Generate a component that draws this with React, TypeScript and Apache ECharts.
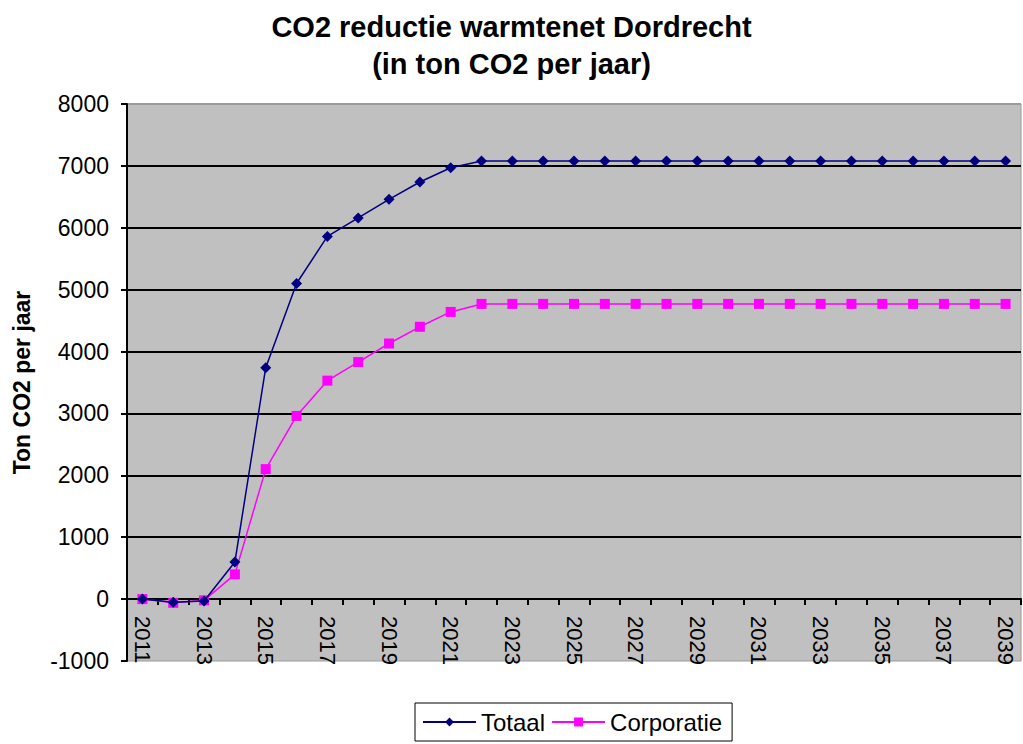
import React, { useEffect, useRef } from "react";
import * as echarts from "echarts";

const years = [
  "2011", "2012", "2013", "2014", "2015", "2016", "2017", "2018", "2019", "2020",
  "2021", "2022", "2023", "2024", "2025", "2026", "2027", "2028", "2029", "2030",
  "2031", "2032", "2033", "2034", "2035", "2036", "2037", "2038", "2039",
];
const totaal = [
  0, -50, -30, 600, 3740, 5100, 5860, 6160, 6460, 6740,
  6970, 7080, 7080, 7080, 7080, 7080, 7080, 7080, 7080, 7080,
  7080, 7080, 7080, 7080, 7080, 7080, 7080, 7080, 7080,
];
const corporatie = [
  0, -60, -20, 400, 2100, 2960, 3530, 3830, 4130, 4400,
  4640, 4770, 4770, 4770, 4770, 4770, 4770, 4770, 4770, 4770,
  4770, 4770, 4770, 4770, 4770, 4770, 4770, 4770, 4770,
];
const titleText = "CO2 reductie warmtenet Dordrecht\n(in ton CO2 per jaar)";
const yAxisName = "Ton CO2 per jaar";

const FONT = "'Liberation Sans', Arial, sans-serif";

export default function App() {
  const ref = useRef<HTMLDivElement>(null);
  useEffect(() => {
    if (!ref.current) return;
    const chart = echarts.init(ref.current, undefined, { renderer: "svg" });
    chart.setOption({
      animation: false,
      backgroundColor: "#ffffff",
      textStyle: { fontFamily: FONT },
      title: {
        text: titleText,
        left: "center",
        top: 3,
        textStyle: {
          fontFamily: FONT,
          fontSize: 29,
          fontWeight: "bold",
          color: "#000",
          lineHeight: 37,
        },
      },
      legend: {
        left: 415,
        top: 703,
        orient: "horizontal",
        borderColor: "#000",
        borderWidth: 1,
        padding: [7, 10, 7, 7],
        itemWidth: 53,
        itemHeight: 11,
        itemGap: 6,
        textStyle: { fontFamily: FONT, fontSize: 24, color: "#000" },
        data: ["Totaal", "Corporatie"],
      },
      grid: {
        left: 127,
        right: 2,
        top: 104,
        bottom: 83,
        show: true,
        backgroundColor: "#c0c0c0",
        borderColor: "#9a9a9a",
        borderWidth: 1,
      },
      xAxis: {
        type: "category",
        data: years,
        boundaryGap: true,
        axisLine: { onZero: true, lineStyle: { color: "#000", width: 2 } },
        axisTick: { show: true, alignWithLabel: false, interval: 0, length: 6, lineStyle: { color: "#000", width: 2 } },
        axisLabel: {
          interval: 1,
          rotate: -90,
          margin: -45,
          fontFamily: FONT,
          fontSize: 22,
          color: "#000",
        },
        splitLine: { show: false },
      },
      yAxis: {
        type: "value",
        min: -1000,
        max: 8000,
        interval: 1000,
        name: yAxisName,
        nameLocation: "middle",
        nameGap: 94,
        nameTextStyle: { fontFamily: FONT, fontSize: 23, fontWeight: "bold", color: "#000" },
        axisLine: { show: true, lineStyle: { color: "#000", width: 2 } },
        axisTick: { show: true, length: 6, lineStyle: { color: "#000", width: 2 } },
        axisLabel: {
          fontFamily: FONT,
          fontSize: 23,
          color: "#000",
          margin: 18,
          formatter: (v: number) => String(v),
        },
        splitLine: {
          show: true,
          lineStyle: {
            color: ["transparent", "#000", "#000", "#000", "#000", "#000", "#000", "#000", "#000", "#9a9a9a"],
            width: 2,
          },
        },
      },
      series: [
        {
          name: "Totaal",
          type: "line",
          data: totaal,
          symbol: "diamond",
          symbolSize: 11,
          lineStyle: { color: "#000080", width: 1.5 },
          itemStyle: { color: "#000080" },
          z: 3,
        },
        {
          name: "Corporatie",
          type: "line",
          data: corporatie,
          symbol: "rect",
          symbolSize: 10,
          lineStyle: { color: "#ff00ff", width: 1.5 },
          itemStyle: { color: "#ff00ff" },
          z: 2,
        },
      ],
    });
    return () => chart.dispose();
  }, []);
  return (
    <div
      ref={ref}
      style={{ position: "fixed", left: 0, top: 0, width: 1023, height: 744 }}
    />
  );
}
